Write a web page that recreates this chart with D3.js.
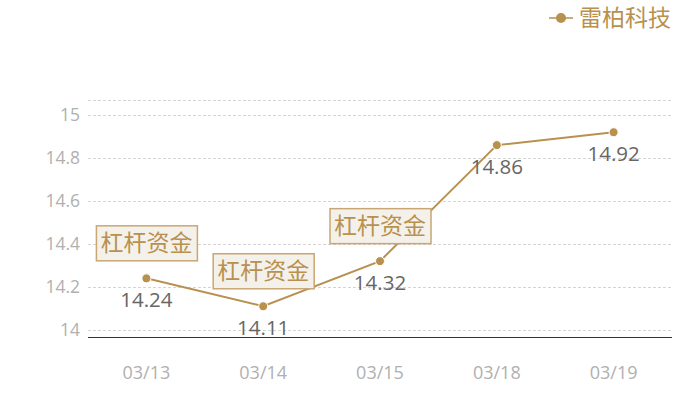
<!DOCTYPE html>
<html>
<head>
  <meta charset="utf-8">
  <script src="https://d3js.org/d3.v7.min.js"></script>
  <style>
    body { margin: 0; background: #fff; }
    svg text { font-family: "Noto Sans CJK SC", "Noto Sans", sans-serif; }
    svg text.num { font-family: "Open Sans", "Noto Sans", sans-serif; }
  </style>
</head>
<body>
<svg id="chart"></svg>
<script>
  const dates = ["03/13", "03/14", "03/15", "03/18", "03/19"];
  const prices = [14.24, 14.11, 14.32, 14.86, 14.92];
  const yTicks = [14, 14.2, 14.4, 14.6, 14.8, 15];
  const notes = ["杠杆资金", "杠杆资金", "杠杆资金", "", ""];
  const seriesName = "雷柏科技";

  const width = 700, height = 400;
  const gold = "#b8914f";
  const margin = {left: 88, right: 28, top: 100, bottom: 63};

  const svg = d3.select("#chart").attr("width", width).attr("height", height);

  const x = d3.scalePoint()
    .domain(dates)
    .range([margin.left, width - margin.right])
    .padding(0.5);

  const y = d3.scaleLinear()
    .domain([13.967, 15.07])
    .range([height - margin.bottom, margin.top]);

  // grid lines
  svg.append("g")
    .selectAll("line")
    .data(yTicks.concat([15.07]))
    .join("line")
    .attr("x1", margin.left)
    .attr("x2", width - margin.right)
    .attr("y1", d => Math.round(y(d)) + 0.5)
    .attr("y2", d => Math.round(y(d)) + 0.5)
    .attr("stroke", "#d4d4d4")
    .attr("stroke-dasharray", "3,2");

  // y labels
  svg.append("g")
    .selectAll("text")
    .data(yTicks)
    .join("text")
    .attr("class", "num")
    .attr("x", 80)
    .attr("y", d => y(d))
    .attr("dy", "0.36em")
    .attr("text-anchor", "end")
    .attr("fill", "#b0b0b0")
    .attr("font-size", 17.5)
    .text(d => d);

  // x axis line
  svg.append("line")
    .attr("x1", margin.left)
    .attr("x2", width - margin.right)
    .attr("y1", height - margin.bottom + 0.5)
    .attr("y2", height - margin.bottom + 0.5)
    .attr("stroke", "#333");

  // x labels
  svg.append("g")
    .selectAll("text")
    .data(dates)
    .join("text")
    .attr("class", "num")
    .attr("x", d => x(d))
    .attr("y", 379)
    .attr("text-anchor", "middle")
    .attr("fill", "#b0b0b0")
    .attr("font-size", 18)
    .text(d => d);

  // line
  const line = d3.line()
    .x((d, i) => x(dates[i]))
    .y(d => y(d));

  svg.append("path")
    .datum(prices)
    .attr("d", line)
    .attr("fill", "none")
    .attr("stroke", gold)
    .attr("stroke-width", 2);

  svg.append("g")
    .selectAll("circle")
    .data(prices)
    .join("circle")
    .attr("cx", (d, i) => x(dates[i]))
    .attr("cy", d => y(d))
    .attr("r", 4.5)
    .attr("fill", gold)
    .attr("stroke", "#fff")
    .attr("stroke-width", 1);

  // value labels
  svg.append("g")
    .selectAll("text")
    .data(prices)
    .join("text")
    .attr("class", "num")
    .attr("x", (d, i) => x(dates[i]))
    .attr("y", d => y(d) + 29)
    .attr("text-anchor", "middle")
    .attr("fill", "#666")
    .attr("font-size", 20.5)
    .text(d => d.toFixed(2));

  // annotation boxes
  const boxW = 101, boxH = 35;
  const notesG = svg.append("g")
    .selectAll("g")
    .data(prices.map((p, i) => ({p, i, note: notes[i]})).filter(d => d.note))
    .join("g")
    .attr("transform", d => `translate(${x(dates[d.i])},${y(d.p) - 18})`);

  notesG.append("rect")
    .attr("x", -boxW / 2 + 0.5)
    .attr("y", -boxH + 0.5)
    .attr("width", boxW)
    .attr("height", boxH)
    .attr("fill", "#f4f0ea")
    .attr("stroke", "#c9a774")
    .attr("stroke-width", 1.5);

  notesG.append("text")
    .attr("x", 0)
    .attr("y", -boxH / 2)
    .attr("dy", "0.36em")
    .attr("text-anchor", "middle")
    .attr("fill", gold)
    .attr("font-size", 23)
    .text(d => d.note);

  // legend
  const lg = svg.append("g").attr("transform", "translate(549,18)");
  lg.append("line").attr("x1", 0).attr("x2", 24).attr("stroke", gold).attr("stroke-width", 1.5);
  lg.append("circle").attr("cx", 12).attr("r", 5).attr("fill", gold);
  lg.append("text")
    .attr("x", 30)
    .attr("dy", "0.36em")
    .attr("fill", gold)
    .attr("font-size", 23)
    .text(seriesName);
</script>
</body>
</html>
